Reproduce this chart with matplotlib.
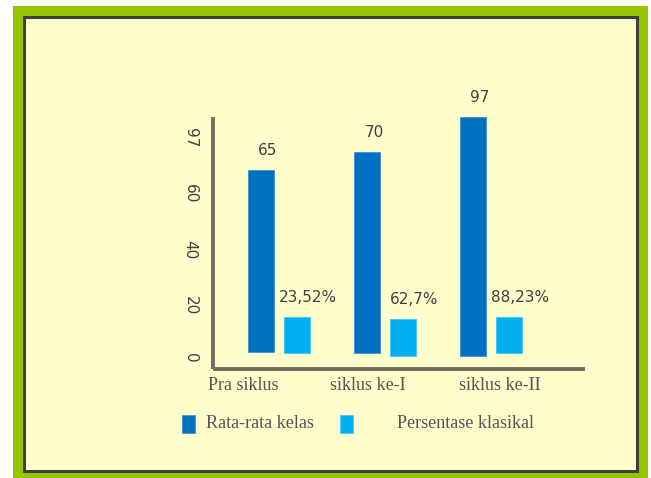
import matplotlib
matplotlib.use("Agg")
import matplotlib.pyplot as plt
import matplotlib.patheffects as pe
from matplotlib import font_manager
from matplotlib.patches import Rectangle

# data
categories = ['Pra siklus', 'siklus ke-I', 'siklus ke-II']
rata_labels = ['65', '70', '97']
persen_labels = ['23,52%', '62,7%', '88,23%']
# drawn bar extents (axis units), the bars in the source are not to scale
rata_top = [67.0, 73.5, 86.0]
rata_base = [2.4, 2.0, 1.1]
persen_top = [14.9, 14.1, 14.8]
persen_base = [2.0, 1.0, 1.9]
ytick_values = [0, 20, 40, 60, 80]
ytick_labels = ['0', '20', '40', '60', '97']
legend_names = ['Rata-rata kelas', 'Persentase klasikal']

DARK = '#0070C0'
LIGHT = '#00B0F0'
BG = '#FFFDCC'
GREEN = '#95C500'
W, H = 651, 478

# narrow sans for the numbers, if available
names = {f.name for f in font_manager.fontManager.ttflist}
NUM_FONT = 'Liberation Sans Narrow' if 'Liberation Sans Narrow' in names else 'DejaVu Sans'
NUM_SIZE = 12.8 if NUM_FONT == 'Liberation Sans Narrow' else 11

fig = plt.figure(figsize=(W / 100, H / 100), dpi=100)
fig.patch.set_facecolor('white')


def px_rect(x0, y0, x1, y1, **kw):
    """rectangle given in pixel coords (origin top-left)"""
    r = Rectangle((x0 / W, 1 - y1 / H), (x1 - x0) / W, (y1 - y0) / H,
                  transform=fig.transFigure, **kw)
    fig.patches.append(r)
    return r


# frame: green border, dark inner line, pale yellow fill (behind the axes)
px_rect(13, 6, 648, 478, facecolor=GREEN, edgecolor='none', zorder=-3)
px_rect(23.5, 16.5, 637, 471, facecolor=BG, edgecolor='#404040', linewidth=2.2, zorder=-2)

ax = fig.add_axes([213 / W, 1 - 369 / H, (585 - 213) / W, (369 - 117) / H])
ax.set_facecolor('none')

x = range(len(categories))
off = 0.17
bw = 0.25
ax.bar([i - off for i in x], [t - b for t, b in zip(rata_top, rata_base)],
       bottom=rata_base, width=bw, color=DARK, edgecolor='#3a8fd0', linewidth=0.6)
ax.bar([i + off for i in x], [t - b for t, b in zip(persen_top, persen_base)],
       bottom=persen_base, width=bw, color=LIGHT, edgecolor='#40c4f4', linewidth=0.6)

for i in x:
    ax.annotate(rata_labels[i], (i - off, rata_top[i]), xytext=(5, 14),
                textcoords='offset points', ha='center', va='center',
                fontsize=NUM_SIZE, family=NUM_FONT, color='#404040', annotation_clip=False)
    ax.annotate(persen_labels[i], (i + off, persen_top[i]), xytext=(8, 14),
                textcoords='offset points', ha='center', va='center',
                fontsize=NUM_SIZE, family=NUM_FONT, color='#404040', annotation_clip=False)

ax.set_xlim(-0.623, 2.887)
ax.set_ylim(-3.66, 85.9)

ax.set_yticks(ytick_values)
ax.set_yticklabels(ytick_labels, rotation=-90, fontsize=NUM_SIZE, family=NUM_FONT, color='#404040')
ax.tick_params(axis='y', length=0, pad=11)
ax.set_xticks([])

# category names sit a bit off the group centres in the source
label_x = [-0.34, 0.84, 2.085]
for lx, name in zip(label_x, categories):
    ax.text(lx, -0.03, name, transform=ax.get_xaxis_transform(), ha='center',
            va='top', fontsize=13, family='Liberation Serif', color='#555555')

for side in ['top', 'right']:
    ax.spines[side].set_visible(False)
for side in ['left', 'bottom']:
    sp = ax.spines[side]
    sp.set_color('#736B60')
    sp.set_linewidth(2.8)
    sp.set_capstyle('butt')
    sp.set_path_effects([pe.SimplePatchShadow(offset=(1.5, -1.5), shadow_rgbFace='#9a9780', alpha=0.5),
                         pe.Normal()])

# legend drawn by hand to match the spacing of the source
px_rect(182, 415, 195, 432.5, facecolor=DARK, edgecolor='#3a8fd0', linewidth=0.5)
px_rect(340, 415, 353, 432.5, facecolor=LIGHT, edgecolor='#40c4f4', linewidth=0.5)
fig.text(206 / W, 1 - 424 / H, legend_names[0], ha='left', va='center',
         fontsize=13.1, family='Liberation Serif', color='#555555')
fig.text(397 / W, 1 - 424 / H, legend_names[1], ha='left', va='center',
         fontsize=13.1, family='Liberation Serif', color='#555555')

fig.savefig('out.png', dpi=100)
